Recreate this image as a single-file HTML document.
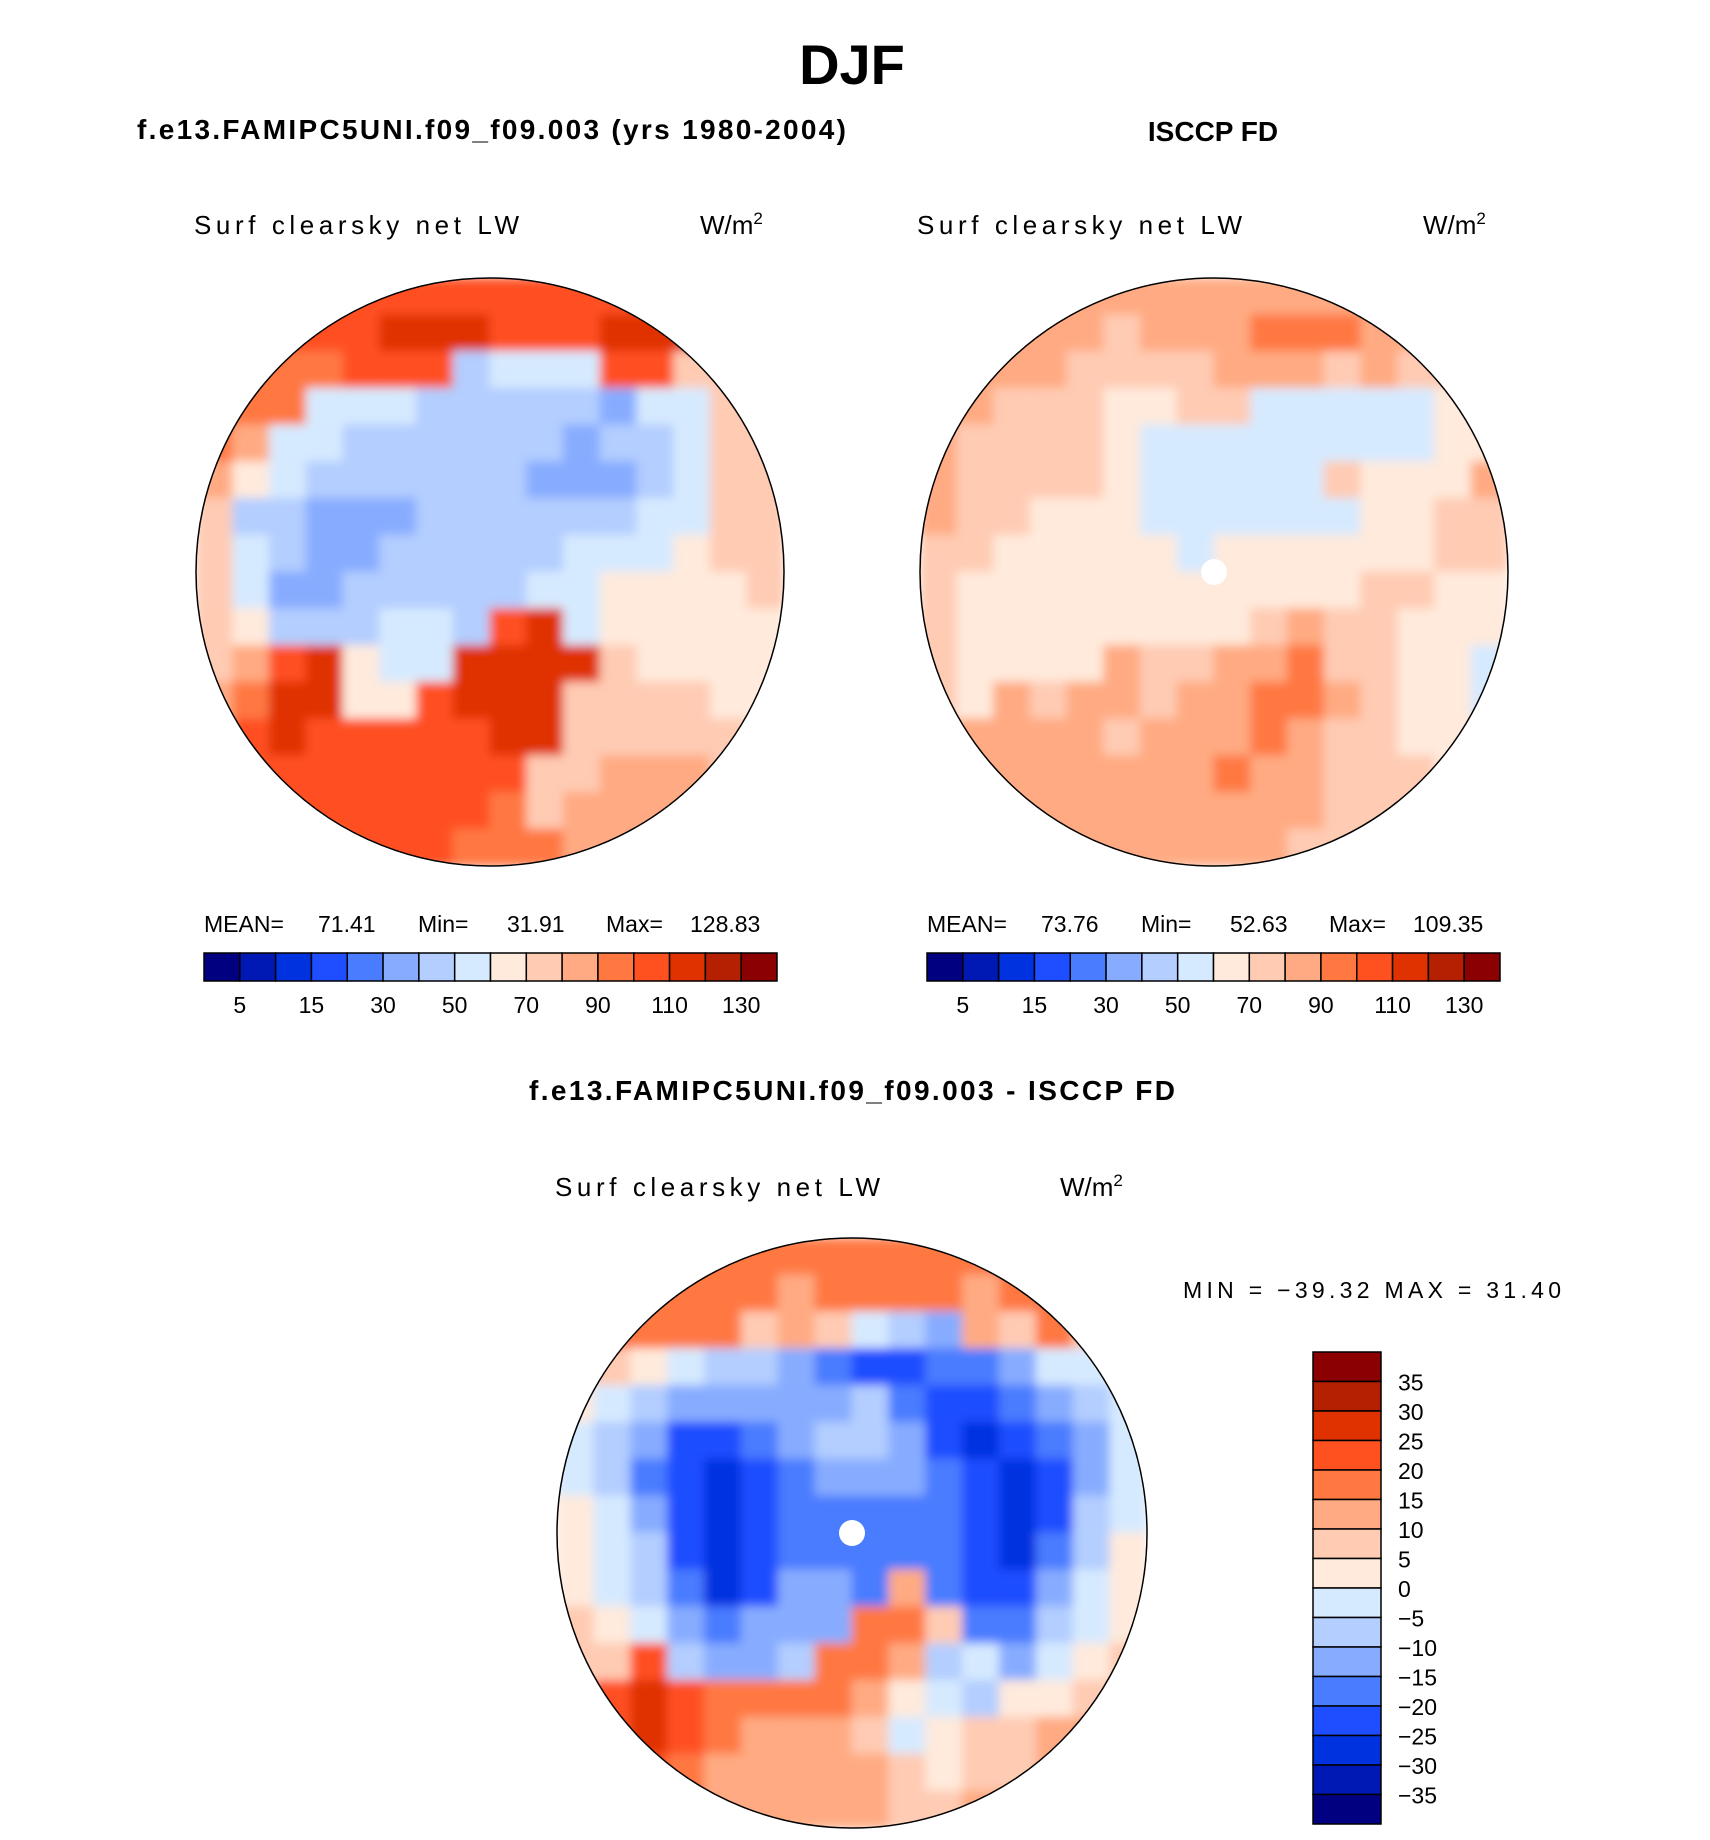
<!DOCTYPE html>
<html><head><meta charset="utf-8"><style>
html,body{margin:0;padding:0;background:#fff;}
body{width:1710px;height:1840px;position:relative;overflow:hidden;font-family:"Liberation Sans",sans-serif;}
svg{position:absolute;left:0;top:0;}
</style></head><body>
<svg id="fig" width="1710" height="1840" viewBox="0 0 1710 1840" xmlns="http://www.w3.org/2000/svg">
<g font-family="Liberation Sans, sans-serif" fill="#000">
<text x="852" y="84" font-size="56" font-weight="bold" text-anchor="middle">DJF</text>
<text x="137" y="139" font-size="28" font-weight="bold" textLength="709">f.e13.FAMIPC5UNI.f09_f09.003 (yrs 1980-2004)</text>
<text x="1213" y="141" font-size="28" font-weight="bold" text-anchor="middle">ISCCP FD</text>
<text x="852" y="1100" font-size="28" font-weight="bold" text-anchor="middle" textLength="646">f.e13.FAMIPC5UNI.f09_f09.003 - ISCCP FD</text>

<text x="194" y="234" font-size="26" textLength="325" font-weight="300">Surf clearsky net LW</text>
<text x="700" y="234" font-size="26">W/m<tspan dy="-10" font-size="17">2</tspan></text>
<text x="917" y="234" font-size="26" textLength="325">Surf clearsky net LW</text>
<text x="1423" y="234" font-size="26">W/m<tspan dy="-10" font-size="17">2</tspan></text>
<text x="555" y="1196" font-size="26" textLength="325">Surf clearsky net LW</text>
<text x="1060" y="1196" font-size="26">W/m<tspan dy="-10" font-size="17">2</tspan></text>

<g font-size="23">
<text x="204" y="932">MEAN=</text><text x="318" y="932">71.41</text>
<text x="418" y="932">Min=</text><text x="507" y="932">31.91</text>
<text x="606" y="932">Max=</text><text x="690" y="932">128.83</text>
</g>
<g font-size="23">
<text x="927" y="932">MEAN=</text><text x="1041" y="932">73.76</text>
<text x="1141" y="932">Min=</text><text x="1230" y="932">52.63</text>
<text x="1329" y="932">Max=</text><text x="1413" y="932">109.35</text>
</g>
<text x="1183" y="1298" font-size="23" textLength="378">MIN = −39.32 MAX =  31.40</text>
</g>
<g id="maps"></g>
<g id="bars"></g>
</svg>
<script>
const palette = ["#000080","#0019b5","#0032e0","#1e4eff","#4a7cff","#87acff","#b3ceff","#d6eaff","#ffeadc","#ffcbb3","#ffaa82","#ff7842","#ff5020","#e03200","#b52000","#8b0000"];
const absTickLabels = ["5","15","30","50","70","90","110","130"];
const diffTickLabels = ["35","30","25","20","15","10","5","0","−5","−10","−15","−20","−25","−30","−35"];
const leftLevels = [
"cccccccccccccccc","cccccdddcccdddcc","bbbbccc6777cc999","bbb7776666657799",
"ba77666666566799","a876666665556799","9665556666667799","9765566666777899",
"9755666667788889","98666776cd788888","9acd877dddd98888","abdd88cddd999988",
"acdcccccdd999998","bcccccccc99aaa99","bbccccccb9aaaaaa","bbbbcccbbbaaaaaa"];
const rightLevels = [
"aaaaaaaaaaaaaaaa","aaaaa9aaabbbaaaa","aaaa9999aaa9a999","aa99988997777788",
"a999987777777788","a99998777779888a","a998887777778899","9988888788888899",
"9888888888889988","9888888889a99888","98888a99aab99887","98a9aa9aabba9887",
"9aaaa9aaaba99888","aaaaaaaabaa99988","aaaaaaaaaaa99988","aaaaaaaaaa999888"];
const diffLevels = [
"bbbbbbbbbbbbbbbb","bbbbbbabbbbabbba","bbbbb9a9765a9b9a","9987665433445778",
"8765555564334567","7653345665323457","7643234555432357","8753234444432367",
"8763234444432468","876423554a433578","98754555bb944678","99c6556bba675789",
"9cdcbbbba8768899","acdcbaaa97899aaa","bbcbaaaaa9899aaa","bbbbaaaaa99aaaaa"];

const NS="http://www.w3.org/2000/svg";
function mk(tag,attrs,parent){const e=document.createElementNS(NS,tag);for(const k in attrs)e.setAttribute(k,attrs[k]);parent.appendChild(e);return e;}
const maps=document.getElementById('maps');
const bars=document.getElementById('bars');

function drawMap(levels,cx,cy,r,id,name,hole){
  const defs=mk('defs',{},maps);
  const cp=mk('clipPath',{id:'clip'+id},defs);
  mk('circle',{cx:cx,cy:cy,r:r},cp);
  const f=mk('filter',{id:'blur'+id,x:'-5%',y:'-5%',width:'110%',height:'110%'},defs);
  mk('feGaussianBlur',{stdDeviation:'5'},f);
  const g=mk('g',{'clip-path':'url(#clip'+id+')'},maps);
  
  
  const inner=mk('g',{filter:'url(#blur'+id+')'},g);
  const n=levels.length, cs=2*r/n;
  levels.forEach((row,i)=>{
    for(let j=0;j<row.length;j++){
      const c=mk('rect',{x:cx-r+j*cs-0.5,y:cy-r+i*cs-0.5,width:cs+1,height:cs+1,fill:palette[parseInt(row[j],16)]},inner);
      
      
    }
  });
  if(hole){const h=mk('circle',{cx:cx,cy:cy,r:13,fill:'#fff'},g);
    
    }
  const b=mk('circle',{cx:cx,cy:cy,r:r,fill:'none',stroke:'#000','stroke-width':1.5},maps);
  
  
}
drawMap(leftLevels,490,572,294,'L','left-map',false);
drawMap(rightLevels,1214,572,294,'R','right-map',true);
drawMap(diffLevels,852,1533,295,'D','diff-map',true);

function hbar(x0,x1,y0,y1,name){
  const w=(x1-x0)/palette.length;
  palette.forEach((c,i)=>{const r=mk('rect',{x:x0+i*w,y:y0,width:w,height:y1-y0,fill:c,stroke:'#000','stroke-width':1.5},bars);
    
    });
  absTickLabels.forEach((t,k)=>{const tx=mk('text',{x:x0+(2*k+1)*w,y:1013,'font-size':23,'text-anchor':'middle','font-family':'Liberation Sans, sans-serif'},bars);tx.textContent=t;
    
    });
}
hbar(204,777,953,981,'left-colorbar');
hbar(927,1500,953,981,'right-colorbar');

(function(){
  const x0=1313,x1=1381,y0=1352,h=29.5;
  for(let i=0;i<palette.length;i++){
    const r=mk('rect',{x:x0,y:y0+i*h,width:x1-x0,height:h,fill:palette[15-i],stroke:'#000','stroke-width':1.5},bars);
    
    
  }
  diffTickLabels.forEach((t,k)=>{
    const tx=mk('text',{x:1398,y:y0+(k+1)*h+9,'font-size':23,'font-family':'Liberation Sans, sans-serif'},bars);
    tx.textContent=t;
    
    
  });
})();
</script>
</body></html>
